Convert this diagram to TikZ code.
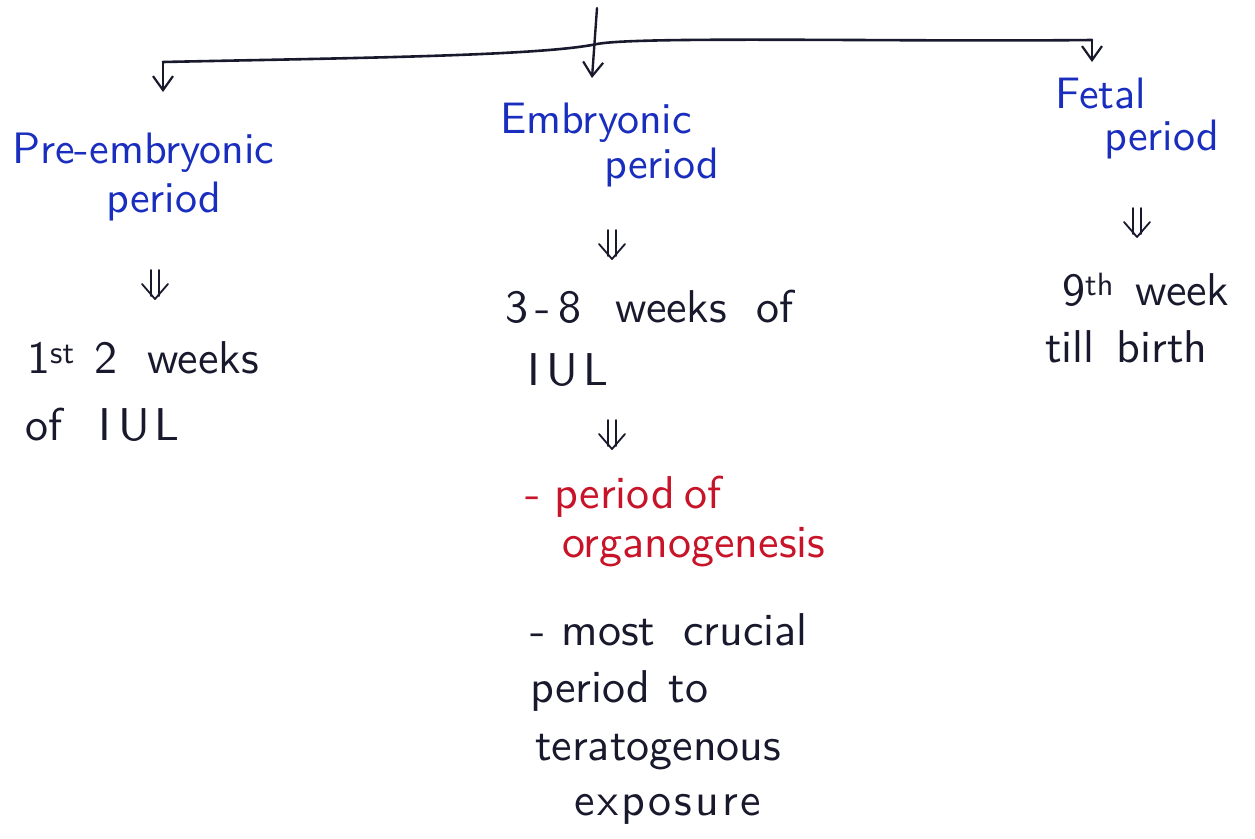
\documentclass[tikz,border=0pt]{standalone}
\usepackage{fontspec}
\newfontfamily\hand{lmsans10-regular.otf}
\usetikzlibrary{arrows.meta}
\definecolor{handblue}{RGB}{25,45,190}
\definecolor{handred}{RGB}{200,20,40}
\definecolor{handink}{RGB}{25,25,45}
\newcommand\lsp{\hspace{3pt}}
\begin{document}
\begin{tikzpicture}[x=1pt,y=-1pt,
  txt/.style={inner sep=0pt,anchor=base west,font=\hand\fontsize{46}{52}\selectfont},
  bluetxt/.style={txt,text=handblue,font=\hand\fontsize{44}{50}\selectfont},
  redtxt/.style={txt,text=handred},
  inktxt/.style={txt,text=handink},
  branch/.style={draw=handink,line width=2.4pt,line cap=round,-{Straight Barb[length=14pt,width=20pt,line width=2.2pt]}},
  bar/.style={draw=handink,line width=2.6pt,line cap=round},
  dblarrow/.pic={\draw[handink,line width=1.8pt,line cap=round,line join=round]
     (-4,0) -- (-4,26) (4,0) -- (4,26) (-13,14) -- (0,29) -- (13,14);}]
\useasboundingbox (0,0) rectangle (1255,838);
\fill[white] (0,0) rectangle (1255,838);
% bracket
\coordinate (top) at (597,8);
\coordinate (mid) at (597,44);
\coordinate (left) at (163,62);
\coordinate (right) at (1092,40);
\coordinate (lefttip) at (163,92);
\coordinate (midtip) at (592,78);
\coordinate (righttip) at (1092,62);
\draw[bar] (left) .. controls (350,58) and (540,56) .. (mid) .. controls (640,36) and (900,42) .. (right);
\draw[branch] (top) -- (midtip);
\draw[branch] (left) -- (lefttip);
\draw[branch] (right) -- (righttip);
% headings
\node[bluetxt] (pre1) at (12,163) {Pre-embryonic};
\node[bluetxt] (pre2) at (106,212) {period};
\node[bluetxt] (emb1) at (500,133) {Embryonic};
\node[bluetxt] (emb2) at (604,178) {period};
\node[bluetxt] (fet1) at (1055,108) {Fetal};
\node[bluetxt] (fet2) at (1104,150) {period};
% double arrows
\pic at (155,270) {dblarrow};
\pic at (612,230) {dblarrow};
\pic at (1137,208) {dblarrow};
\pic at (612,420) {dblarrow};
% details
\node[inktxt] (w1) at (27,373) {1\textsuperscript{st}\hspace{20pt}2\hspace{30pt}weeks};
\node[inktxt] (w2) at (25,440) {of\hspace{36pt}I\hspace{7pt}U\hspace{5pt}L};
\node[inktxt] (e1) at (505,322) {3\,-\,8\hspace{34pt}weeks\hspace{30pt}of};
\node[inktxt] (e2) at (527,385) {I\hspace{7pt}U\hspace{5pt}L};
\node[inktxt] (f1) at (1062,305) {9\textsuperscript{th}\hspace{22pt}week};
\node[inktxt] (f2) at (1045,362) {till\hspace{22pt}birth};
\node[redtxt] (r1) at (525,508) {-\hspace{14pt}period\hspace{10pt}of};
\node[redtxt] (r2) at (562,557) {organogenesis};
\node[inktxt] (b1) at (530,645) {-\hspace{16pt}most\hspace{28pt}crucial};
\node[inktxt] (b2) at (530,702) {period\hspace{18pt}to};
\node[inktxt] (b3) at (535,760) {teratogenous};
\node[inktxt] (b4) at (574,815) {e\lsp x\lsp p\lsp o\lsp s\lsp u\lsp r\lsp e};
\end{tikzpicture}
\end{document}
